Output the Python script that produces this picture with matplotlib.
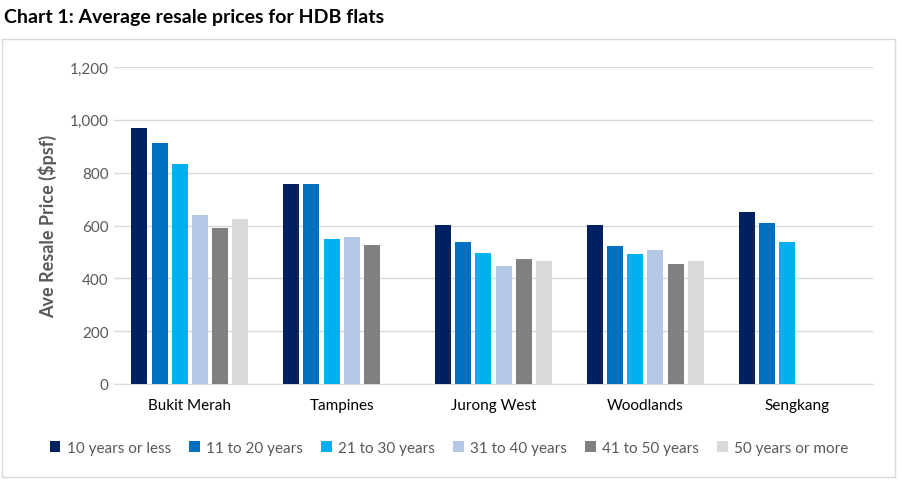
import matplotlib
matplotlib.use("Agg")
import matplotlib.pyplot as plt
import numpy as np
from matplotlib.patches import Rectangle

# --- data ---
towns = ["Bukit Merah", "Tampines", "Jurong West", "Woodlands", "Sengkang"]
age_groups = ["10 years or less", "11 to 20 years", "21 to 30 years",
              "31 to 40 years", "41 to 50 years", "50 years or more"]
ten_or_less = [970, 757, 602, 602, 651]
eleven_20 = [912, 757, 539, 522, 609]
twentyone_30 = [833, 549, 496, 492, 539]
thirtyone_40 = [640, 556, 447, 507, np.nan]
fortyone_50 = [591, 526, 473, 454, np.nan]
fifty_more = [625, np.nan, 466, 466, np.nan]
series = [ten_or_less, eleven_20, twentyone_30, thirtyone_40, fortyone_50, fifty_more]
colors = ["#002060", "#0070C0", "#00B0F0", "#B4C7E7", "#808080", "#D9D9D9"]
yticks = [0, 200, 400, 600, 800, 1000, 1200]

plt.rcParams['font.family'] = ['Lato', 'DejaVu Sans']

fig = plt.figure(figsize=(9.03, 4.85), dpi=100)
W, H = 903, 485

# outer chart border
fig.patches.append(Rectangle((2 / W, 1 - 478 / H), 893 / W, 438 / H,
                             transform=fig.transFigure, fill=False,
                             edgecolor="#D9D9D9", linewidth=1))

fig.text(4 / W, 1 - 18 / H, "Chart 1: Average resale prices for HDB flats",
         fontsize=14, fontweight="bold", color="black", va="center", ha="left")

ax = fig.add_axes([114 / W, 1 - 385 / H, 759 / W, 317 / H])

x = np.arange(len(towns))
slot = 0.133
bw = 0.106
for i, (vals, c, lab) in enumerate(zip(series, colors, age_groups)):
    ax.bar(x + (i - 2.5) * slot, vals, width=bw, color=c, label=lab, zorder=3)

ax.set_xlim(-0.5, len(towns) - 0.5)
ax.set_ylim(0, 1200)
ax.set_yticks(yticks)
ax.set_yticklabels([f"{v:,}" for v in yticks])
ax.set_xticks(x)
ax.set_xticklabels(towns)
ax.yaxis.grid(True, color="#D9D9D9", linewidth=1, zorder=0)
ax.set_axisbelow(True)
for s in ["top", "right", "left"]:
    ax.spines[s].set_visible(False)
ax.spines["bottom"].set_color("#D9D9D9")
ax.tick_params(axis="both", length=0, labelsize=11, colors="#595959")
ax.tick_params(axis="y", pad=4)
ax.tick_params(axis="x", pad=10)
for t in ax.get_xticklabels():
    t.set_color("black")
ax.set_ylabel("Ave Resale Price ($psf)", fontsize=13, fontweight="bold",
              color="#595959", labelpad=9)

ax.legend(loc="center", bbox_to_anchor=(449 / W, 1 - 449 / H),
          bbox_transform=fig.transFigure, ncol=6, frameon=False,
          fontsize=11, handlelength=0.7, handleheight=0.7,
          handletextpad=0.4, columnspacing=1.2, labelcolor="#595959")

fig.savefig("out.png", dpi=100)
